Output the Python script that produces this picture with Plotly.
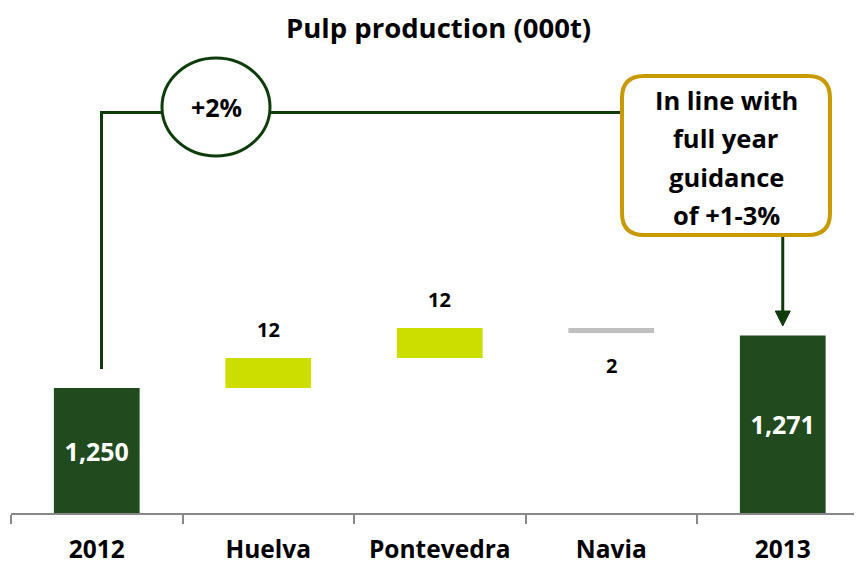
import plotly.graph_objects as go

# data
categories = ["2012", "Huelva", "Pontevedra", "Navia", "2013"]
values = [1250, 12, 12, -2, 1271]
measures = ["total", "relative", "relative", "relative", "total"]
labels = ["1,250", "12", "12", "2", "1,271"]

title = "Pulp production (000t)"
growth_text = "+2%"
guidance_lines = ["In line with", "full year", "guidance", "of +1-3%"]

# axis starts above zero (broken axis as in the original)
AXIS_MIN = 1200
AXIS_MAX = 1402

DARK = "#214A1E"
LIME = "#CCDD00"
GREY = "#BFBFBF"
LINE = "#0E3D0B"
GOLD = "#C99A00"
FONT = "Open Sans"

# the page body adds an 8px margin, so the figure is 8px smaller
OFF = 8
W, H = 862 - OFF, 567 - OFF
L, R, T, B = 3, 0, 0, 54

# waterfall bases
bases, heights, colors = [], [], []
running = 0
for v, m in zip(values, measures):
    if m == "total":
        bases.append(AXIS_MIN)
        heights.append(v - AXIS_MIN)
        colors.append(DARK)
        running = v
    else:
        bases.append(running)
        heights.append(v)
        colors.append(LIME if v > 0 else GREY)
        running += v

fig = go.Figure()
fig.add_trace(go.Bar(
    x=categories,
    y=heights,
    base=bases,
    width=0.5,
    marker=dict(color=colors, line=dict(width=0)),
    text=[lab if m == "total" else "" for lab, m in zip(labels, measures)],
    textposition="inside",
    insidetextanchor="middle",
    textfont=dict(family=FONT, size=25, color="white", weight="bold"),
    hoverinfo="skip",
))

# labels for the relative bars
annotations = []
for cat, b, h, lab, m in zip(categories, bases, heights, labels, measures):
    if m == "total":
        continue
    up = h >= 0
    annotations.append(dict(x=cat, y=b + h, text=f"<b>{lab}</b>", showarrow=False,
                            xanchor="center",
                            yanchor="bottom" if up else "top",
                            yshift=13 if up else -17,
                            font=dict(family=FONT, size=20, color="black")))


# window pixel -> paper
def px(x):
    return (x - OFF - L) / (W - L - R)


def py(y):
    return (H - B - (y - OFF)) / (H - B - T)


# bracket line from 2012 to the guidance box
shapes = [
    dict(type="path", xref="paper", yref="paper",
         path=f"M {px(101.5)},{py(369)} L {px(101.5)},{py(112.5)} L {px(622)},{py(112.5)}",
         line=dict(color=LINE, width=3)),
    dict(type="circle", xref="paper", yref="paper",
         x0=px(162), x1=px(270), y0=py(156), y1=py(58),
         line=dict(color=LINE, width=3), fillcolor="white"),
]

# rounded guidance box
x0, x1, y0, y1, r = 622, 830, 76, 235, 22
rx = r / (W - L - R)
ry = r / (H - B - T)
X0, X1, Y0, Y1 = px(x0), px(x1), py(y1), py(y0)
box_path = (
    f"M {X0 + rx},{Y1} L {X1 - rx},{Y1} Q {X1},{Y1} {X1},{Y1 - ry} "
    f"L {X1},{Y0 + ry} Q {X1},{Y0} {X1 - rx},{Y0} "
    f"L {X0 + rx},{Y0} Q {X0},{Y0} {X0},{Y0 + ry} "
    f"L {X0},{Y1 - ry} Q {X0},{Y1} {X0 + rx},{Y1} Z"
)
shapes.append(dict(type="path", xref="paper", yref="paper", path=box_path,
                   line=dict(color=GOLD, width=4), fillcolor="white"))

# arrow from the box down to the 2013 bar
ax_c = 782.75
shapes.append(dict(type="line", xref="paper", yref="paper",
                   x0=px(ax_c), x1=px(ax_c), y0=py(237), y1=py(314),
                   line=dict(color=LINE, width=3)))
shapes.append(dict(type="path", xref="paper", yref="paper",
                   path=(f"M {px(ax_c - 7.5)},{py(311)} L {px(ax_c + 7.5)},{py(311)} "
                         f"L {px(ax_c)},{py(326)} Z"),
                   line=dict(color=LINE, width=1), fillcolor=LINE))

annotations.append(dict(xref="paper", yref="paper", x=px(216), y=py(107),
                        xanchor="center", yanchor="middle",
                        text=f"<b>{growth_text}</b>", showarrow=False,
                        font=dict(family=FONT, size=25, color="black")))
for i, line in enumerate(guidance_lines):
    annotations.append(dict(xref="paper", yref="paper", x=px(726), y=py(100 + 38.3 * i),
                            xanchor="center", yanchor="middle",
                            text=f"<b>{line}</b>", showarrow=False,
                            font=dict(family=FONT, size=25.5, color="black")))

# title as an annotation so it stays inside the page
annotations.append(dict(xref="paper", yref="paper", x=px(438), y=py(27),
                        xanchor="center", yanchor="middle",
                        text=f"<b>{title}</b>", showarrow=False,
                        font=dict(family=FONT, size=27.5, color="black")))

fig.update_layout(
    width=W, height=H,
    margin=dict(l=L, r=R, t=T, b=B),
    plot_bgcolor="white", paper_bgcolor="white",
    showlegend=False,
    xaxis=dict(range=[-0.5, -0.5 + (W - L - R) / 171.5],
               showline=True, linecolor="#888888", linewidth=1.5,
               ticks="outside", tickson="boundaries", ticklen=9, tickwidth=1.5,
               tickcolor="#888888", ticklabelstandoff=14,
               tickfont=dict(family=FONT, size=24.5, color="black", weight="bold"),
               showgrid=False, zeroline=False),
    yaxis=dict(range=[AXIS_MIN, AXIS_MAX], visible=False, showgrid=False),
    shapes=shapes,
    annotations=annotations,
)

fig.write_html("out.html")
